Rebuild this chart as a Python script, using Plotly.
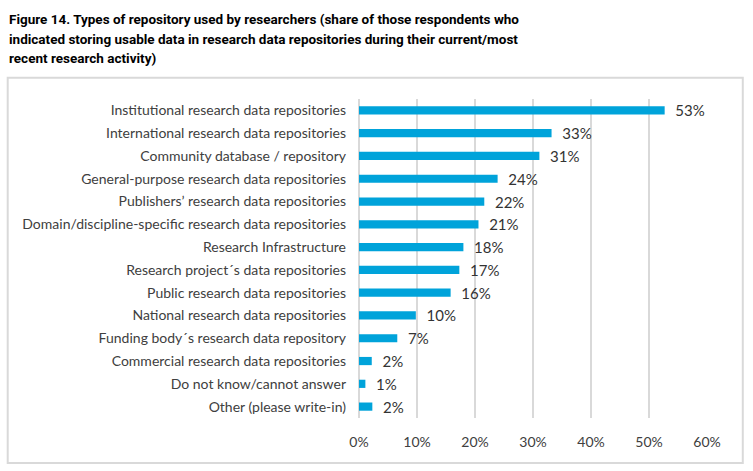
import plotly.graph_objects as go

categories = [
    "Institutional research data repositories",
    "International research data repositories",
    "Community database / repository",
    "General-purpose research data repositories",
    "Publishers\u2019 research data repositories",
    "Domain/discipline-specific research data repositories",
    "Research Infrastructure",
    "Research project\u00b4s data repositories",
    "Public research data repositories",
    "National research data repositories",
    "Funding body\u00b4s research data repository",
    "Commercial research data repositories",
    "Do not know/cannot answer",
    "Other (please write-in)",
]
values = [52.7, 33.2, 31.1, 23.9, 21.6, 20.6, 18.0, 17.3, 15.8, 9.8, 6.6, 2.2, 1.1, 2.3]
tick_vals = [0, 10, 20, 30, 40, 50, 60]
tick_text = ["0%", "10%", "20%", "30%", "40%", "50%", "60%"]

title_lines = [
    "Figure 14. Types of repository used by researchers (share of those respondents who",
    "indicated storing usable data in research data repositories during their current/most",
    "recent research activity)",
]

W, H = 753, 471
L, R, T, B = 358.5, 46.3, 99.3, 53

BAR = "#00a3da"
GRID = "#d9d9d9"
LABEL_FONT = "Lato, Calibri, sans-serif"
TITLE_FONT = "Roboto, Arial, sans-serif"

fig = go.Figure(go.Bar(
    x=values,
    y=categories,
    orientation="h",
    marker=dict(color=BAR, line=dict(width=0)),
    text=["\u00a0\u00a0" + f"{v:.0f}%" for v in values],
    textposition="outside",
    textfont=dict(family=LABEL_FONT, size=15, color="#333333"),
    constraintext="none",
    cliponaxis=False,
    width=0.36,
))

pw = W - L - R
ph = H - T - B


def px_x(x):
    return (x - L) / pw


def px_y(y):
    return (H - B - y) / ph


box = dict(x0=7, x1=742.5, y0=78, y1=463)
fig.add_shape(
    type="rect", xref="paper", yref="paper",
    x0=px_x(box["x0"]), x1=px_x(box["x1"]),
    y0=px_y(box["y1"]), y1=px_y(box["y0"]),
    line=dict(color=GRID, width=2), fillcolor="rgba(0,0,0,0)", layer="below",
)

for i, line in enumerate(title_lines):
    fig.add_annotation(
        text=line, xref="paper", yref="paper",
        x=px_x(6), xanchor="left",
        y=px_y(19.5 + 19.6 * i), yanchor="middle",
        showarrow=False, align="left",
        font=dict(family=TITLE_FONT, size=13.5, color="black", weight="bold"),
    )

fig.update_layout(
    width=W, height=H,
    margin=dict(l=L, r=R, t=T, b=B, autoexpand=False),
    paper_bgcolor="white", plot_bgcolor="white",
    showlegend=False,
    xaxis=dict(
        range=[0, 60], tickvals=tick_vals, ticktext=tick_text,
        showgrid=True, gridcolor=GRID, gridwidth=2,
        zeroline=True, zerolinecolor=GRID, zerolinewidth=2,
        showline=False, ticks="", ticklabelstandoff=14,
        tickfont=dict(family=LABEL_FONT, size=14, color="#404040"),
        fixedrange=True,
    ),
    yaxis=dict(
        autorange="reversed", ticks="", showgrid=False, zeroline=False,
        ticklabelstandoff=12,
        tickfont=dict(family=LABEL_FONT, size=14, color="#404040"),
        fixedrange=True,
    ),
)

fig.write_html("out.html", config={"displayModeBar": False},
               post_script="document.body.style.margin='0';document.body.style.overflow='hidden';")
